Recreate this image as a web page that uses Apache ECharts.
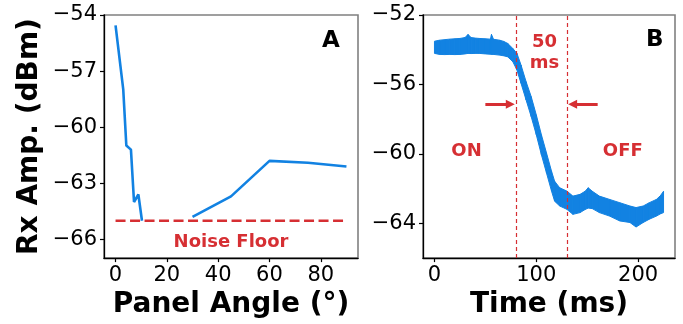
<!DOCTYPE html>
<html>
<head>
<meta charset="utf-8">
<script src="https://cdn.jsdelivr.net/npm/echarts@6/dist/echarts.min.js"></script>
<style>html,body{margin:0;padding:0;background:#fff}#c{width:683px;height:324px}</style>
</head>
<body>
<div id="c"></div>
<script>
// ---- Panel A data ----
const angleA = [0, 3, 4.2, 6, 7.2, 8.9, 10.3, 20, 30, 45, 60, 75, 90];
const ampA   = [-54.55, -57.98, -60.98, -61.2, -64.0, -63.6, -65.0, null, -64.8, -63.7, -61.8, -61.9, -62.1];
const noiseX = [0, 90];
const noiseLevel = -65;
const ticksAx = [0, 20, 40, 60, 80];
const ticksAy = [-66, -63, -60, -57, -54];

// ---- Panel B data (upper / lower edges of the noisy trace) ----
const timeB  = [0,5,10,15,20,25,30,33,36,40,44,50,55,56,58,64,68,72,77,81,85,90,95,100,105,110,115,118,123,130,136,143,148,151,155,162,172,182,192,198,205,211,218,222,225];
const upperB = [-53.51,-53.45,-53.42,-53.39,-53.37,-53.35,-53.30,-53.12,-53.30,-53.33,-53.35,-53.37,-53.39,-53.12,-53.40,-53.45,-53.52,-53.64,-53.93,-54.21,-54.88,-55.84,-56.70,-57.75,-58.89,-59.94,-61.00,-61.57,-61.95,-62.14,-62.43,-62.33,-62.15,-61.95,-62.15,-62.43,-62.62,-62.81,-63.00,-63.09,-63.00,-62.81,-62.62,-62.40,-62.15];
const lowerB = [-54.21,-54.27,-54.28,-54.27,-54.28,-54.27,-54.24,-54.21,-54.22,-54.21,-54.21,-54.24,-54.26,-54.27,-54.27,-54.31,-54.35,-54.41,-54.69,-55.17,-55.93,-56.89,-57.85,-58.89,-60.04,-61.09,-62.14,-62.72,-63.00,-63.19,-63.48,-63.38,-63.20,-63.12,-63.15,-63.38,-63.58,-63.86,-63.95,-64.21,-63.95,-63.76,-63.58,-63.45,-63.38];
const ticksBx = [0, 100, 200];
const ticksBy = [-64, -60, -56, -52];
const switchTimes = [80, 130];
const arrowY = -57.14;
const arrowLeft = [50, 74.5];
const arrowRight = [160.3, 135.7];

const BLUE = '#1282e2';
const RED = '#d62f33';
const FONT = 'DejaVu Sans';
const minus = v => String(v).replace('-', '\u2212');

function xAx(grid, min, max, ticks, name) {
  return {
    type: 'value', gridIndex: grid, min: min, max: max,
    splitLine: {show: false},
    axisLine: {show: true, onZero: false, lineStyle: {color: '#000', width: 1.3}},
    axisTick: {show: true, length: 4, customValues: ticks, lineStyle: {color: '#000', width: 1.2}},
    axisLabel: {customValues: ticks, fontSize: 21, color: '#000', margin: 7, fontFamily: FONT, formatter: minus},
    name: name, nameLocation: 'middle', nameGap: 43,
    nameTextStyle: {fontSize: 28, fontWeight: 'bold', color: '#000', fontFamily: FONT, verticalAlign: 'middle'}
  };
}
function yAx(grid, min, max, ticks, name) {
  return {
    type: 'value', gridIndex: grid, min: min, max: max,
    splitLine: {show: false},
    axisLine: {show: true, onZero: false, lineStyle: {color: '#000', width: 1.3}},
    axisTick: {show: true, length: 4, customValues: ticks, lineStyle: {color: '#000', width: 1.2}},
    axisLabel: {customValues: ticks, fontSize: 21, color: '#000', margin: 7, fontFamily: FONT, formatter: minus},
    name: name, nameLocation: 'middle', nameGap: 74, nameRotate: 90,
    nameTextStyle: {fontSize: 28, fontWeight: 'bold', color: '#000', fontFamily: FONT, verticalAlign: 'middle'}
  };
}
function txt(grid, x, y, text, size) {
  return {
    type: 'scatter', xAxisIndex: grid, yAxisIndex: grid, symbolSize: 0, silent: true, z: 5,
    itemStyle: {opacity: 1},
    data: [[x, y]],
    label: {show: true, position: 'inside', formatter: text, color: RED, fontSize: size || 18,
            fontWeight: 'bold', fontFamily: FONT, lineHeight: 21, align: 'center', verticalAlign: 'middle'}
  };
}

// band between the upper and lower edge readings, one quad per interval
function renderBand(params, api) {
  const i = params.dataIndexInside;
  if (i >= params.dataInsideLength - 1) return null;
  const p1 = api.coord([api.value(0, i), api.value(1, i)]);
  const p2 = api.coord([api.value(0, i + 1), api.value(1, i + 1)]);
  const p3 = api.coord([api.value(0, i + 1), api.value(2, i + 1)]);
  const p4 = api.coord([api.value(0, i), api.value(2, i)]);
  return {
    type: 'polygon',
    shape: {points: [p1, p2, p3, p4]},
    style: {fill: BLUE, stroke: BLUE, lineWidth: 1}
  };
}

const chart = echarts.init(document.getElementById('c'), null, {renderer: 'canvas'});
chart.setOption({
  animation: false,
  backgroundColor: '#fff',
  grid: [
    {left: 104, top: 15, width: 254, height: 245, show: true, borderColor: '#808080', borderWidth: 1.6, backgroundColor: 'transparent'},
    {left: 423, top: 15, width: 252, height: 245, show: true, borderColor: '#808080', borderWidth: 1.6, backgroundColor: 'transparent'}
  ],
  xAxis: [xAx(0, -4.5, 94.5, ticksAx, 'Panel Angle (°)'), xAx(1, -11.25, 236.25, ticksBx, 'Time (ms)')],
  yAxis: [yAx(0, -67, -54, ticksAy, 'Rx Amp. (dBm)'), yAx(1, -66, -52, ticksBy, '')],
  graphic: [
    {type: 'text', left: 322, top: 30, style: {text: 'A', font: 'bold 23px "DejaVu Sans"', fill: '#000'}},
    {type: 'text', left: 646, top: 29, style: {text: 'B', font: 'bold 23px "DejaVu Sans"', fill: '#000'}}
  ],
  series: [
    {
      type: 'line', xAxisIndex: 0, yAxisIndex: 0, showSymbol: false, symbol: 'none', connectNulls: false,
      data: angleA.map((a, i) => [a, ampA[i]]),
      lineStyle: {color: BLUE, width: 2.6}, z: 3
    },
    {
      type: 'line', xAxisIndex: 0, yAxisIndex: 0, symbol: 'none',
      data: noiseX.map(a => [a, noiseLevel]),
      lineStyle: {color: RED, width: 2.5, type: [10, 4.5]}, z: 2
    },
    txt(0, 45, -66.13, 'Noise Floor'),
    {
      type: 'custom', xAxisIndex: 1, yAxisIndex: 1, silent: true, z: 2,
      renderItem: renderBand,
      encode: {x: 0, y: [1, 2]},
      data: timeB.map((t, i) => [t, upperB[i], lowerB[i]])
    },
    {
      type: 'line', xAxisIndex: 1, yAxisIndex: 1, symbol: 'none', data: [], z: 3,
      markLine: {
        silent: true, animation: false, symbol: 'none', label: {show: false},
        data: [
          {xAxis: switchTimes[0], lineStyle: {color: RED, width: 1.2, type: [4, 3]}},
          {xAxis: switchTimes[1], lineStyle: {color: RED, width: 1.2, type: [4, 3]}},
          [{coord: [arrowLeft[0], arrowY], symbol: 'none'},
           {coord: [arrowLeft[1], arrowY], symbol: 'triangle', symbolSize: [9, 9], lineStyle: {color: RED, width: 3, type: 'solid'}}],
          [{coord: [arrowRight[0], arrowY], symbol: 'none'},
           {coord: [arrowRight[1], arrowY], symbol: 'triangle', symbolSize: [9, 9], lineStyle: {color: RED, width: 3, type: 'solid'}}]
        ]
      }
    },
    txt(1, 108, -54.15, '50\nms'),
    txt(1, 31.5, -59.87, 'ON'),
    txt(1, 185, -59.87, 'OFF')
  ]
});
</script>
</body>
</html>
